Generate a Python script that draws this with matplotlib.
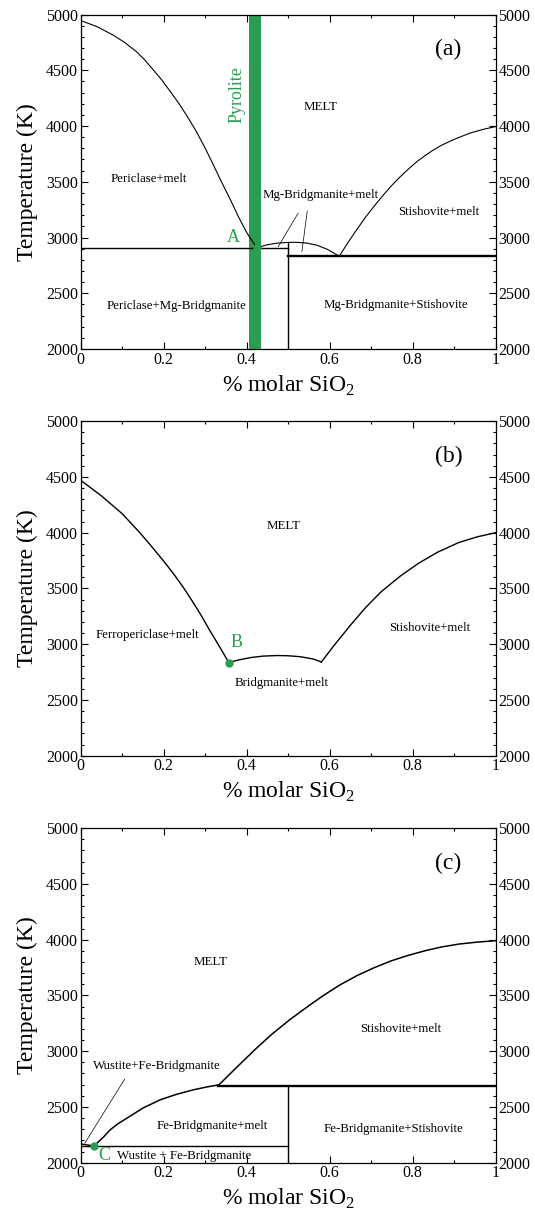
import numpy as np
import matplotlib
matplotlib.use("Agg")
import matplotlib.pyplot as plt
from matplotlib.ticker import MultipleLocator

plt.rcParams['font.family'] = 'serif'
plt.rcParams['font.serif'] = ['Liberation Serif', 'DejaVu Serif']
plt.rcParams['mathtext.fontset'] = 'custom'
plt.rcParams['mathtext.rm'] = 'Liberation Serif'

GREEN = '#2a9d52'

# ---- panel (a) data : MgO-SiO2 ----
a_left_x = [0, 0.04, 0.077, 0.105, 0.134, 0.155, 0.175, 0.196, 0.216, 0.237, 0.257,
            0.278, 0.298, 0.318, 0.339, 0.36, 0.38, 0.40, 0.424]
a_left_T = [4946, 4890, 4818, 4752, 4668, 4590, 4503, 4410, 4309, 4200, 4085,
            3955, 3816, 3665, 3501, 3345, 3187, 3045, 2908]
a_brg_x = [0.424, 0.45, 0.475, 0.5, 0.52, 0.545, 0.57, 0.595, 0.623]
a_brg_T = [2908, 2935, 2950, 2956, 2957, 2950, 2930, 2893, 2832]
a_sti_x = [0.623, 0.645, 0.667, 0.687, 0.708, 0.729, 0.749, 0.77, 0.79, 0.81,
           0.83, 0.85, 0.871, 0.9, 0.937, 0.97, 1.0]
a_sti_T = [2832, 2960, 3080, 3185, 3285, 3380, 3465, 3545, 3615, 3680,
           3735, 3785, 3830, 3880, 3935, 3970, 3995]
a_solidus1 = 2905
a_solidus2 = 2830
a_pyrolite = [0.405, 0.434]
a_eutectic = (0.424, 2908)

# ---- panel (b) data : FeO-MgO-SiO2 ----
b_left_x = [0, 0.05, 0.1, 0.1425, 0.17, 0.2, 0.225, 0.249, 0.27, 0.29, 0.31, 0.331, 0.357]
b_left_T = [4470, 4330, 4170, 4000, 3880, 3745, 3625, 3500, 3380, 3260, 3130, 3000, 2835]
b_brg_x = [0.357, 0.38, 0.41, 0.44, 0.474, 0.5, 0.53, 0.56, 0.58]
b_brg_T = [2835, 2858, 2880, 2893, 2898, 2896, 2887, 2867, 2840]
b_sti_x = [0.58, 0.613, 0.65, 0.687, 0.724, 0.77, 0.814, 0.86, 0.91, 0.955, 1.0]
b_sti_T = [2840, 3000, 3170, 3330, 3470, 3610, 3725, 3825, 3910, 3962, 4000]
b_eutectic = (0.357, 2835)

# ---- panel (c) data : FeO-SiO2 ----
c_brg_x = [0.032, 0.0545, 0.0706, 0.09, 0.111, 0.15, 0.191, 0.23, 0.271, 0.305, 0.333]
c_brg_T = [2150, 2228, 2293, 2350, 2398, 2490, 2563, 2612, 2653, 2680, 2698]
c_sti_x = [0.333, 0.347, 0.38, 0.421, 0.46, 0.503, 0.545, 0.585, 0.625, 0.667,
           0.708, 0.749, 0.79, 0.83, 0.87, 0.912, 0.955, 1.0]
c_sti_T = [2698, 2749, 2870, 3018, 3150, 3280, 3395, 3500, 3595, 3680,
           3750, 3811, 3860, 3901, 3935, 3961, 3978, 3991]
c_solidus1 = 2150
c_solidus2 = 2690
c_eutectic = (0.032, 2150)

fig = plt.figure(figsize=(5.35, 12.19), dpi=100)
bottoms = [0.7137, 0.3801, 0.0462]
axes = [fig.add_axes([0.1508, b, 0.7757, 0.2744]) for b in bottoms]


def style(ax):
    ax.set_xlim(0, 1)
    ax.set_ylim(2000, 5000)
    ax.xaxis.set_major_locator(MultipleLocator(0.2))
    ax.xaxis.set_minor_locator(MultipleLocator(0.1))
    ax.yaxis.set_major_locator(MultipleLocator(500))
    ax.yaxis.set_minor_locator(MultipleLocator(100))
    ax.set_xticks([0, 0.2, 0.4, 0.6, 0.8, 1.0])
    ax.set_xticklabels(['0', '0.2', '0.4', '0.6', '0.8', '1'])
    ax.tick_params(which='both', direction='in', top=True, right=True,
                   labelright=True, labelsize=11.5, pad=2, width=0.8)
    ax.tick_params(which='major', length=5)
    ax.tick_params(which='minor', length=2.5)
    for s in ax.spines.values():
        s.set_linewidth(0.9)
    ax.set_xlabel('% molar SiO$_2$', fontsize=17, labelpad=4)
    ax.set_ylabel('Temperature (K)', fontsize=17, labelpad=6)


lw = 0.8
fs = 9.3

# (a)
ax = axes[0]
style(ax)
ax.axvspan(a_pyrolite[0], a_pyrolite[1], color=GREEN, lw=0, zorder=1)
ax.plot(a_left_x, a_left_T, 'k-', lw=lw, zorder=3)
ax.plot(a_brg_x, a_brg_T, 'k-', lw=lw, zorder=3)
ax.plot(a_sti_x, a_sti_T, 'k-', lw=lw, zorder=3)
ax.plot([0, 0.5], [a_solidus1, a_solidus1], 'k-', lw=1.0, zorder=3)
ax.plot([0.5, 0.5], [2000, 2955], 'k-', lw=1.0, zorder=3)
ax.plot([0.5, 1.0], [a_solidus2, a_solidus2], 'k-', lw=1.7, zorder=3)
ax.plot([0.524, 0.476], [3218, 2918], 'k-', lw=0.5)
ax.plot([0.546, 0.533], [3238, 2873], 'k-', lw=0.5)
ax.plot(*a_eutectic, 'o', color=GREEN, ms=5, zorder=4)
ax.text(0.886, 4683, '(a)', fontsize=17, ha='center', va='center')
ax.text(0.377, 4279, 'Pyrolite', fontsize=13, color=GREEN, rotation=90,
        ha='center', va='center')
ax.text(0.578, 4168, 'MELT', fontsize=fs, ha='center', va='center')
ax.text(0.163, 3525, 'Periclase+melt', fontsize=fs, ha='center', va='center')
ax.text(0.578, 3385, 'Mg-Bridgmanite+melt', fontsize=fs, ha='center', va='center')
ax.text(0.862, 3226, 'Stishovite+melt', fontsize=fs, ha='center', va='center')
ax.text(0.367, 2999, 'A', fontsize=13, color=GREEN, ha='center', va='center')
ax.text(0.231, 2389, 'Periclase+Mg-Bridgmanite', fontsize=fs, ha='center', va='center')
ax.text(0.759, 2395, 'Mg-Bridgmanite+Stishovite', fontsize=fs, ha='center', va='center')

# (b)
ax = axes[1]
style(ax)
ax.plot(b_left_x, b_left_T, 'k-', lw=1.0)
ax.plot(b_brg_x, b_brg_T, 'k-', lw=1.0)
ax.plot(b_sti_x, b_sti_T, 'k-', lw=1.0)
ax.plot(*b_eutectic, 'o', color=GREEN, ms=5, zorder=4)
ax.text(0.886, 4683, '(b)', fontsize=17, ha='center', va='center')
ax.text(0.489, 4062, 'MELT', fontsize=fs, ha='center', va='center')
ax.text(0.161, 3085, 'Ferropericlase+melt', fontsize=fs, ha='center', va='center')
ax.text(0.375, 3016, 'B', fontsize=13, color=GREEN, ha='center', va='center')
ax.text(0.483, 2651, 'Bridgmanite+melt', fontsize=fs, ha='center', va='center')
ax.text(0.840, 3144, 'Stishovite+melt', fontsize=fs, ha='center', va='center')

# (c)
ax = axes[2]
style(ax)
ax.plot(c_brg_x, c_brg_T, 'k-', lw=1.1)
ax.plot(c_sti_x, c_sti_T, 'k-', lw=1.1)
ax.plot([0, 0.5], [c_solidus1, c_solidus1], 'k-', lw=1.0)
ax.plot([0, 0.032], [2168, 2150], 'k-', lw=1.0)
ax.plot([0.5, 0.5], [2000, c_solidus2], 'k-', lw=1.0)
ax.plot([0.33, 1.0], [c_solidus2, c_solidus2], 'k-', lw=1.7)
ax.plot([0.106, 0.0098], [2749, 2174], 'k-', lw=0.5)
ax.plot(*c_eutectic, 'o', color=GREEN, ms=5, zorder=4)
ax.text(0.886, 4680, '(c)', fontsize=17, ha='center', va='center')
ax.text(0.314, 3796, 'MELT', fontsize=fs, ha='center', va='center')
ax.text(0.771, 3198, 'Stishovite+melt', fontsize=fs, ha='center', va='center')
ax.text(0.183, 2868, 'Wustite+Fe-Bridgmanite', fontsize=fs, ha='center', va='center')
ax.text(0.317, 2329, 'Fe-Bridgmanite+melt', fontsize=fs, ha='center', va='center')
ax.text(0.753, 2299, 'Fe-Bridgmanite+Stishovite', fontsize=fs, ha='center', va='center')
ax.text(0.057, 2066, 'C', fontsize=13, color=GREEN, ha='center', va='center')
ax.text(0.249, 2060, 'Wustite + Fe-Bridgmanite', fontsize=fs, ha='center', va='center')

fig.savefig('out.png', dpi=100)
